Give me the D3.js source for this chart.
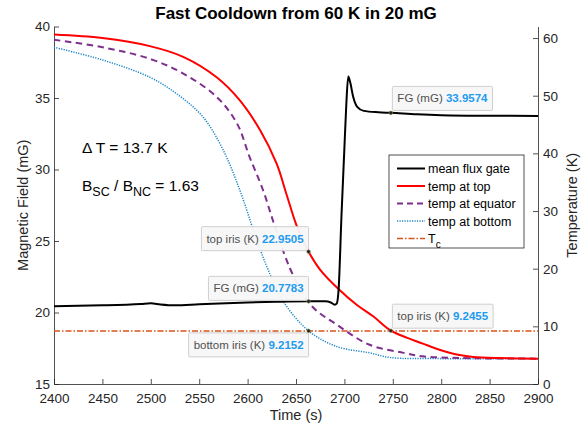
<!DOCTYPE html>
<html>
<head>
<meta charset="utf-8">
<script src="https://cdn.jsdelivr.net/npm/d3@7"></script>
<style>
  body { margin: 0; background: #fff; }
  svg text { font-family: "Liberation Sans", Arial, sans-serif; }
</style>
</head>
<body>
<svg id="chart"></svg>
<script>
const WIDTH = 587;
const HEIGHT = 428;

// mean flux gate (left axis, mG)
const fgTime = [2400, 2450, 2490, 2500, 2510, 2525, 2550, 2600, 2630, 2663, 2680, 2686, 2690, 2692, 2694, 2697, 2700, 2702, 2704, 2706, 2709, 2713, 2720, 2735, 2748, 2775, 2800, 2850, 2900];
const fgVal  = [20.43, 20.5, 20.6, 20.64, 20.56, 20.5, 20.57, 20.7, 20.75, 20.78, 20.78, 20.7, 20.55, 20.62, 21.6, 26.8, 31.5, 34.6, 36.5, 36.1, 35.1, 34.4, 34.1, 34.0, 33.96, 33.86, 33.8, 33.76, 33.75];

// temperatures (right axis, K)
const topTime = [2400, 2450, 2499, 2534, 2568, 2592, 2613, 2630, 2640, 2651, 2663, 2675, 2695, 2713, 2730, 2748, 2765, 2781, 2799, 2816, 2833, 2860, 2900];
const topTemp = [60.6, 60.0, 58.6, 56.7, 53.2, 49.2, 44.0, 38.2, 33.0, 27.3, 22.95, 19.8, 16.3, 13.7, 11.7, 9.25, 8.0, 7.0, 5.9, 5.1, 4.7, 4.5, 4.4];

const eqTime = [2400, 2450, 2499, 2534, 2568, 2589, 2602, 2616, 2627, 2638, 2647, 2667, 2692, 2726, 2761, 2781, 2820, 2900];
const eqTemp = [59.7, 58.4, 56.4, 53.8, 49.8, 45.2, 39.4, 33.6, 27.9, 22.5, 18.9, 13.4, 10.3, 6.8, 5.4, 4.8, 4.5, 4.4];

const botTime = [2400, 2450, 2499, 2527, 2554, 2575, 2592, 2606, 2620, 2637, 2663, 2692, 2726, 2747, 2800, 2900];
const botTemp = [58.4, 56.2, 53.2, 50.3, 46.3, 40.5, 33.6, 26.7, 20.3, 14.3, 9.2152, 6.5, 5.4, 4.6, 4.4, 4.4];

const tcTemp = 9.2;

const xTicks = [2400, 2450, 2500, 2550, 2600, 2650, 2700, 2750, 2800, 2850, 2900];
const leftTicks = [15, 20, 25, 30, 35, 40];
const rightTicks = [0, 10, 20, 30, 40, 50, 60];

// data tips
const tipLabels = ["top iris (K)", "FG (mG)", "bottom iris (K)", "top iris (K)", "FG (mG)"];
const tipValues = [22.9505, 20.7783, 9.2152, 9.2455, 33.9574];
const tipTimes  = [2663, 2663, 2663, 2748, 2748];
const tipAxis   = ["right", "left", "right", "right", "left"];
const tipSide   = ["upleft", "upleft", "downleft", "upright", "upright"];

const legendNames = ["mean flux gate", "temp at top", "temp at equator", "temp at bottom", "T"];

const MARGIN = { top: 26.5, bottom: 44, left: 54, right: 49 };

const svg = d3.select("#chart")
  .attr("width", WIDTH)
  .attr("height", HEIGHT);

const x = d3.scaleLinear()
  .domain([2400, 2900])
  .range([MARGIN.left, WIDTH - MARGIN.right]);

const yL = d3.scaleLinear()
  .domain([15, 40])
  .range([HEIGHT - MARGIN.bottom, MARGIN.top]);

const yR = d3.scaleLinear()
  .domain([0, 62])
  .range([HEIGHT - MARGIN.bottom, MARGIN.top]);

const axisColor = "#262626";

// axes (MATLAB style, ticks inside)
const xAxis = svg.append("g")
  .attr("transform", `translate(0, ${HEIGHT - MARGIN.bottom})`)
  .call(d3.axisBottom(x).tickValues(xTicks).tickFormat(d3.format("d"))
    .tickSizeInner(-5).tickSizeOuter(0).tickPadding(9));

const leftAxis = svg.append("g")
  .attr("transform", `translate(${MARGIN.left}, 0)`)
  .call(d3.axisLeft(yL).tickValues(leftTicks).tickSizeInner(-5).tickSizeOuter(0).tickPadding(4));

const rightAxis = svg.append("g")
  .attr("transform", `translate(${WIDTH - MARGIN.right}, 0)`)
  .call(d3.axisRight(yR).tickValues(rightTicks).tickSizeInner(-5).tickSizeOuter(0).tickPadding(5));

[xAxis, leftAxis, rightAxis].forEach(g => {
  g.selectAll("path, line").attr("stroke", axisColor).attr("stroke-width", 0.8);
  g.selectAll("text").attr("fill", axisColor).attr("font-size", 13.5);
});

// axis labels
svg.append("text")
  .attr("x", (MARGIN.left + WIDTH - MARGIN.right) / 2)
  .attr("y", 420)
  .attr("text-anchor", "middle")
  .attr("font-size", 14.5)
  .attr("fill", axisColor)
  .text("Time (s)");

svg.append("text")
  .attr("transform", `translate(28, ${(MARGIN.top + HEIGHT - MARGIN.bottom) / 2}) rotate(-90)`)
  .attr("text-anchor", "middle")
  .attr("font-size", 14.5)
  .attr("fill", axisColor)
  .text("Magnetic Field (mG)");

svg.append("text")
  .attr("transform", `translate(577, ${(MARGIN.top + HEIGHT - MARGIN.bottom) / 2}) rotate(-90)`)
  .attr("text-anchor", "middle")
  .attr("font-size", 14.5)
  .attr("fill", axisColor)
  .text("Temperature (K)");

svg.append("text")
  .attr("x", 296)
  .attr("y", 19)
  .attr("text-anchor", "middle")
  .attr("font-size", 17)
  .attr("font-weight", "bold")
  .attr("fill", "#000")
  .text("Fast Cooldown from 60 K in 20 mG");

// series
const lineL = d3.line().x(d => x(d[0])).y(d => yL(d[1])).curve(d3.curveMonotoneX);
const lineR = d3.line().x(d => x(d[0])).y(d => yR(d[1])).curve(d3.curveCatmullRom.alpha(0.5));

const series = [
  { data: d3.zip(botTime, botTemp), line: lineR, color: "#1b86c8", width: 1.5, dash: "1.2,1.3" },
  { data: d3.zip(eqTime, eqTemp), line: lineR, color: "#7e2f8e", width: 2, dash: "6.5,4.5" },
  { data: d3.zip(topTime, topTemp), line: lineR, color: "#ff0000", width: 2, dash: null },
  { data: d3.zip(fgTime, fgVal), line: lineL, color: "#000000", width: 2, dash: null },
];

// Tc line
svg.append("line")
  .attr("x1", x(2400))
  .attr("x2", x(2900))
  .attr("y1", yR(tcTemp))
  .attr("y2", yR(tcTemp))
  .attr("stroke", "#d95319")
  .attr("stroke-width", 1.6)
  .attr("stroke-dasharray", "6,2,1.5,2");

series.forEach(s => {
  svg.append("path")
    .datum(s.data)
    .attr("d", s.line)
    .attr("fill", "none")
    .attr("stroke", s.color)
    .attr("stroke-width", s.width)
    .attr("stroke-dasharray", s.dash);
});

// annotations
svg.append("text")
  .attr("x", 82)
  .attr("y", 153)
  .attr("font-size", 15.5)
  .attr("fill", "#000")
  .text("\u0394 T = 13.7 K");

const ratio = svg.append("text")
  .attr("x", 82)
  .attr("y", 191)
  .attr("font-size", 15.5)
  .attr("fill", "#000");
ratio.append("tspan").text("B");
ratio.append("tspan").attr("dy", 5).attr("font-size", 12.5).text("SC");
ratio.append("tspan").attr("dy", -5).text(" / B");
ratio.append("tspan").attr("dy", 5).attr("font-size", 12.5).text("NC");
ratio.append("tspan").attr("dy", -5).text(" = 1.63");

// data tips
const yTip = (i) => tipAxis[i] === "left" ? yL(tipValues[i]) : yR(tipValues[i]);

tipValues.forEach((v, i) => {
  const cx = x(tipTimes[i]);
  const cy = yTip(i);
  const g = svg.append("g");
  const rect = g.append("rect")
    .attr("fill", "#f7f7f7")
    .attr("fill-opacity", 0.95)
    .attr("stroke", "#cfcfcf")
    .attr("stroke-width", 1)
    .attr("rx", 1);
  const t = g.append("text")
    .attr("font-size", 11.5);
  t.append("tspan").attr("fill", "#505050").text(tipLabels[i] + " ");
  t.append("tspan").attr("fill", "#1e9bf0").attr("font-weight", "bold").text(v.toFixed(4));
  const w = t.node().getComputedTextLength() + 10;
  const h = 24;
  let bx, by;
  if (tipSide[i] === "upleft") { bx = cx - w; by = cy - h - 1; }
  else if (tipSide[i] === "downleft") { bx = cx - w; by = cy + 2; }
  else { bx = cx + 1.5; by = cy - h - 2.5; }
  rect.attr("x", bx).attr("y", by).attr("width", w).attr("height", h);
  t.attr("x", bx + 5).attr("y", by + 16);
  svg.append("circle")
    .attr("cx", cx)
    .attr("cy", cy)
    .attr("r", 1.8)
    .attr("fill", "#222")
    .attr("stroke", "#8a8a50")
    .attr("stroke-width", 0.6);
});

// legend
const legend = svg.append("g").attr("transform", "translate(389, 155)");
legend.append("rect")
  .attr("width", 135)
  .attr("height", 93)
  .attr("fill", "#fff")
  .attr("stroke", "#262626")
  .attr("stroke-width", 0.8);

const legendItems = [
  { color: "#000000", width: 2, dash: null },
  { color: "#ff0000", width: 2, dash: null },
  { color: "#7e2f8e", width: 2, dash: "6,4" },
  { color: "#1b86c8", width: 1.5, dash: "1.2,1.3" },
  { color: "#d95319", width: 1.6, dash: "6,2,1.5,2" },
];

legendItems.forEach((it, i) => {
  const yy = 13.5 + i * 17.5;
  legend.append("line")
    .attr("x1", 8).attr("x2", 36)
    .attr("y1", yy).attr("y2", yy)
    .attr("stroke", it.color)
    .attr("stroke-width", it.width)
    .attr("stroke-dasharray", it.dash);
  const lt = legend.append("text")
    .attr("x", 39)
    .attr("y", yy + 4.5)
    .attr("font-size", 12.5)
    .attr("fill", "#000");
  lt.append("tspan").text(legendNames[i]);
  if (i === 4) lt.append("tspan").attr("dy", 5).attr("font-size", 10).text("c");
});
</script>
</body>
</html>
